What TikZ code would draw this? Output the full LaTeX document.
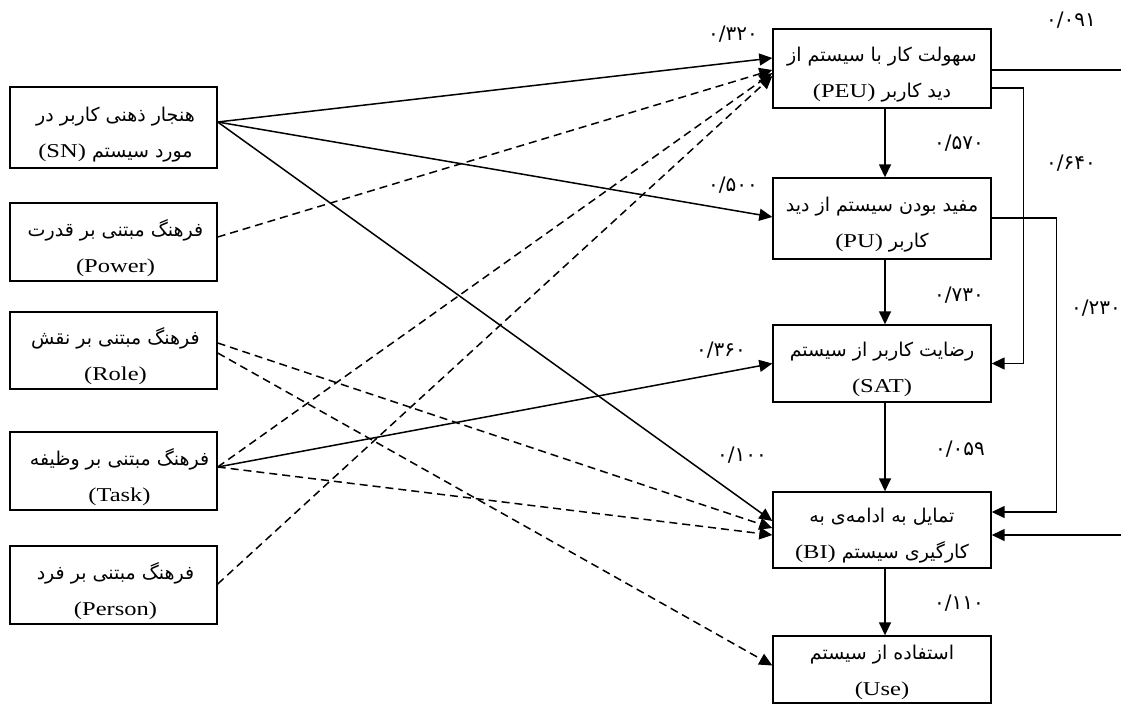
\documentclass[tikz,border=0pt]{standalone}
\usepackage{fontspec}
\usepackage{graphicx}
\setmainfont{Liberation Serif}
\newfontfamily\fa[Script=Arabic]{DejaVu Sans}
\TeXXeTstate=1
\usetikzlibrary{arrows.meta,calc}
\newcommand{\fat}[1]{{\fa\fontsize{19}{36}\selectfont\beginR #1\endR}}
\newcommand{\lt}[1]{{\rmfamily\fontsize{19.6}{36}\selectfont\scalebox{1.25}[1]{#1}}}
\begin{document}
\begin{tikzpicture}[x=1pt,y=-1pt,
  bx/.style={draw, line width=1.4pt, minimum width=#1, minimum height=79pt, inner sep=0pt},
  lbox/.style={bx=207pt},
  rbox/.style={bx=218pt},
  txt/.style={inner sep=0pt, align=center, font=\fontsize{19}{36}\selectfont},
  sol/.style={line width=1.5pt, -{Triangle[length=13pt,width=12pt]}},
  das/.style={sol, dash pattern=on 8pt off 5pt},
  num/.style={font=\fa\fontsize{20}{20}\selectfont, inner sep=0pt}]
\useasboundingbox (0,0) rectangle (1121,704);

% left boxes
\node[lbox, minimum height=81pt] (SN) at (113.5,127.5) {};
\node[lbox, minimum height=78pt] (PW) at (113.5,242) {};
\node[lbox, minimum height=77pt] (RL) at (113.5,350.5) {};
\node[lbox, minimum height=78pt] (TK) at (113.5,471) {};
\node[lbox, minimum height=78pt] (PS) at (113.5,585) {};
\node[txt] (SNt) at ($(SN)+(2,7)$) {\fat{هنجار ذهنی کاربر در}\\\fat{مورد سیستم \beginL\lt{(SN)}\endL}};
\node[txt] (PWt) at ($(PW)+(2,6)$) {\fat{فرهنگ مبتنی بر قدرت}\\\lt{(Power)}};
\node[txt] (RLt) at ($(RL)+(2,6)$) {\fat{فرهنگ مبتنی بر نقش}\\\lt{(Role)}};
\node[txt] (TKt) at ($(TK)+(6,6)$) {\fat{فرهنگ مبتنی بر وظیفه}\\\lt{(Task)}};
\node[txt] (PSt) at ($(PS)+(2,6)$) {\fat{فرهنگ مبتنی بر فرد}\\\lt{(Person)}};

% right boxes
\node[rbox, minimum height=79pt] (PEU) at (882,68.5) {};
\node[rbox, minimum height=81pt] (PU) at (882,218.5) {};
\node[rbox, minimum height=77pt] (SAT) at (882,363.5) {};
\node[rbox, minimum height=76pt] (BI) at (882,530) {};
\node[rbox, minimum height=67pt] (USE) at (882,669.5) {};
\node[txt] (PEUt) at ($(PEU)+(0,6)$) {\fat{سهولت کار با سیستم از}\\\fat{دید کاربر \beginL\lt{(PEU)}\endL}};
\node[txt] (PUt) at ($(PU)+(0,6)$) {\fat{مفید بودن سیستم از دید}\\\fat{کاربر \beginL\lt{(PU)}\endL}};
\node[txt] (SATt) at ($(SAT)+(0,6)$) {\fat{رضایت کاربر از سیستم}\\\lt{(SAT)}};
\node[txt] (BIt) at ($(BI)+(0,6)$) {\fat{تمایل به ادامه‌ی به}\\\fat{کارگیری سیستم \beginL\lt{(BI)}\endL}};
\node[txt] (USEt) at ($(USE)+(0,3)$) {\fat{استفاده از سیستم}\\\lt{(Use)}};

% coefficients
\node[num] (c1) at (733,34) {۰/۳۲۰};
\node[num] (c2) at (1071,20) {۰/۰۹۱};
\node[num] (c3) at (959,143) {۰/۵۷۰};
\node[num] (c4) at (1071,163) {۰/۶۴۰};
\node[num] (c5) at (733,185) {۰/۵۰۰};
\node[num] (c6) at (959,295) {۰/۷۳۰};
\node[num] (c7) at (1096,308) {۰/۲۳۰};
\node[num] (c8) at (721,350) {۰/۳۶۰};
\node[num] (c9) at (960,449) {۰/۰۵۹};
\node[num] (c10) at (742,455) {۰/۱۰۰};
\node[num] (c11) at (959,603) {۰/۱۱۰};

% SN solid paths
\draw[sol] ($(SN.east)+(0,-5.5)$) -- ($(PEU.west)+(0,-10.5)$);
\draw[sol] ($(SN.east)+(0,-5.5)$) -- ($(PU.west)+(0,-1.5)$);
\draw[sol] ($(SN.east)+(0,-5.5)$) -- ($(BI.west)+(0,-9)$);

% dashed to PEU
\draw[das] ($(PW.east)+(0,-5)$) -- ($(PEU.west)+(0,1.5)$);
\draw[das] ($(TK.east)+(0,-4)$) -- ($(PEU.west)+(0,4.5)$);
\draw[das] ($(PS.east)+(0,-1)$) -- ($(PEU.west)+(0,7.5)$);

% role
\draw[das] ($(RL.east)+(0,-7.5)$) -- ($(BI.west)+(0,-2)$);
\draw[das] ($(RL.east)+(0,2.5)$) -- ($(USE.west)+(0,-4)$);

% task
\draw[sol] ($(TK.east)+(0,-4)$) -- (SAT.west);
\draw[das] ($(TK.east)+(0,-4)$) -- ($(BI.west)+(0,5)$);

% vertical chain
\draw[sol] ($(PEU.south)+(3,0)$) -- ($(PU.north)+(3,0)$);
\draw[sol] ($(PU.south)+(3,0)$) -- ($(SAT.north)+(3,0)$);
\draw[sol] ($(SAT.south)+(3,0)$) -- ($(BI.north)+(3,0)$);
\draw[sol] ($(BI.south)+(3,0)$) -- ($(USE.north)+(3,0)$);

% right-side loops
\draw[sol] ($(PEU.east)+(0,19.5)$) -- ++(32,0) |- (SAT.east);
\draw[sol] ($(PU.east)+(0,-0.5)$) -- ++(65,0) |- ($(BI.east)+(0,-18)$);
\draw[sol] ($(PEU.east)+(0,1.5)$) -- ++(150,0) |- ($(BI.east)+(0,5)$);
\end{tikzpicture}
\end{document}
